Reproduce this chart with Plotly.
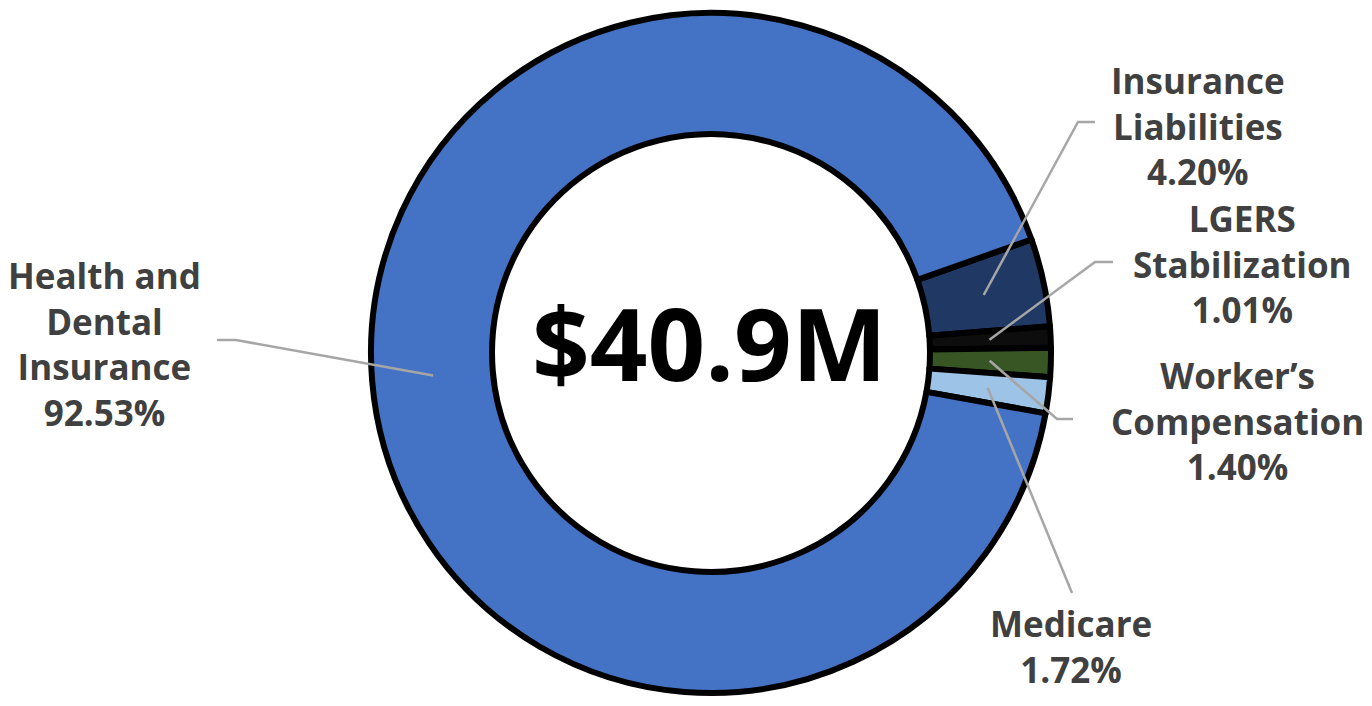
import math
import plotly.graph_objects as go

# ---- data ----
categories = ["Insurance<br>Liabilities", "LGERS<br>Stabilization", "Worker\u2019s<br>Compensation",
              "Medicare", "Health and<br>Dental<br>Insurance"]
values = [4.20, 1.01, 1.40, 1.72, 92.53]
colors = ["#203864", "#0d0d0d", "#375623", "#9DC3E6", "#4472C4"]
center_label = "$40.9M"

W, H = 1372, 706
CX, CY, R = 711, 353, 340     # ring centre / radius in screen pixels
ROT = 70.5                    # first slice start, degrees clockwise from 12 o'clock


def px(x, y):
    """screen pixel -> paper coordinates"""
    return x / W, 1 - y / H


fig = go.Figure()
x0, y1 = px(CX - R, CY - R)
x1, y0 = px(CX + R, CY + R)
fig.add_trace(go.Pie(
    labels=categories, values=values, sort=False, direction="clockwise",
    rotation=ROT, hole=0.644, textinfo="none", hoverinfo="label+percent",
    marker=dict(colors=colors, line=dict(color="#000000", width=6)),
    domain=dict(x=[x0, x1], y=[y0, y1]),
    showlegend=False,
))

# label placement: text block centre, leader elbow points
label_pos = [
    dict(tx=1198, ty=125, path=[(1095, 122), (1078, 122)]),
    dict(tx=1242, ty=263, path=[(1113, 262), (1095, 262)]),
    dict(tx=1237, ty=420, path=[(1073, 419), (1057, 419)]),
    dict(tx=1071, ty=645, path=[(1072, 593)]),
    dict(tx=104, ty=343, path=[(217, 340), (236, 340)]),
]

total = sum(values)
acc = 0.0
annotations = []
shapes = []
for cat, v, lp in zip(categories, values, label_pos):
    mid = ROT + (acc + v / 2) / total * 360.0
    acc += v
    a = math.radians(mid)
    rr = 0.82 * R
    ex, ey = CX + rr * math.sin(a), CY - rr * math.cos(a)
    pts = [px(*p) for p in lp["path"]] + [px(ex, ey)]
    d = "M " + " L ".join(f"{x:.5f},{y:.5f}" for x, y in pts)
    shapes.append(dict(type="path", path=d, xref="paper", yref="paper",
                       line=dict(color="#A6A6A6", width=2.5)))
    x, y = px(lp["tx"], lp["ty"] + 1)
    annotations.append(dict(
        x=x, y=y, xref="paper", yref="paper", xanchor="center", yanchor="middle",
        text=f"{cat}<br>{v:.2f}%", showarrow=False, align="center", borderpad=0,
        font=dict(family="Open Sans", size=35, color="#404040", weight="bold"),
    ))

x, y = px(709, 342)
annotations.append(dict(
    x=x, y=y, xref="paper", yref="paper", xanchor="center", yanchor="middle",
    text=center_label, showarrow=False,
    font=dict(family="Open Sans", size=101, color="#000000", weight="bold"),
))

fig.update_layout(
    width=W, height=H, margin=dict(l=0, r=0, t=0, b=0),
    paper_bgcolor="white", plot_bgcolor="white",
    annotations=annotations, shapes=shapes,
)
fig.write_html(
    "out.html",
    config={"displayModeBar": False},
    post_script="document.body.style.margin='0';document.body.style.overflow='hidden';",
)
